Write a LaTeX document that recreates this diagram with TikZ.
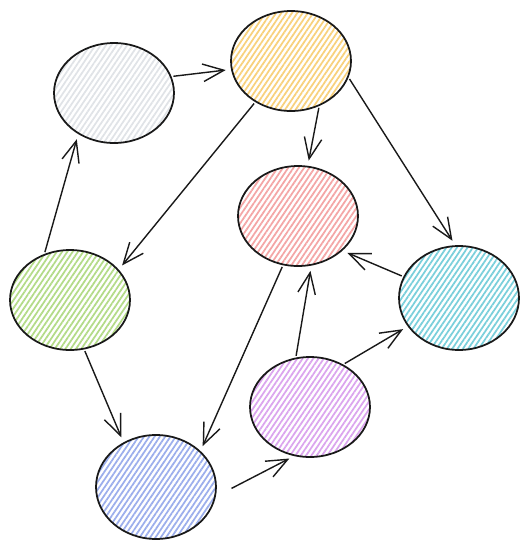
\documentclass[tikz,border=0pt]{standalone}
\usepackage{xcolor}
\usepackage{tikz}
\usetikzlibrary{arrows.meta,shapes.geometric,patterns.meta}

\definecolor{grayfill}{HTML}{E0E3E7}
\definecolor{yellowfill}{HTML}{F8D17C}
\definecolor{redfill}{HTML}{F4A6A6}
\definecolor{greenfill}{HTML}{B3DB88}
\definecolor{cyanfill}{HTML}{7ACFDB}
\definecolor{purplefill}{HTML}{DBA5EE}
\definecolor{bluefill}{HTML}{9CAEEC}

\begin{document}
\begin{tikzpicture}[
  x=0.02cm, y=-0.02cm,
  blob/.style={ellipse, draw=black!90, line width=1pt,
    minimum width=2.4cm, minimum height=2.0cm, inner sep=0pt,
    pattern={Lines[angle=56, distance=2.5pt, line width=1pt]}},
  edge/.style={-{Straight Barb[length=12pt, width=10pt]}, line width=0.8pt,
    draw=black!90, shorten <=1pt, shorten >=3pt}
]
\useasboundingbox (0,0) rectangle (529,548);

\node[blob, pattern color=grayfill] (gray) at (114,93) {};
\node[blob, pattern color=yellowfill] (yellow) at (291,61) {};
\node[blob, pattern color=redfill] (red) at (298,216) {};
\node[blob, pattern color=greenfill] (green) at (70,300) {};
\node[blob, pattern color=cyanfill, minimum height=2.08cm] (cyan) at (459,298) {};
\node[blob, pattern color=purplefill] (purple) at (310,407) {};
\node[blob, pattern color=bluefill, minimum height=2.08cm] (blue) at (156,487) {};

\draw[edge] (gray.16) -- (yellow.188);
\draw[edge] (yellow.229) -- (green.32);
\draw[edge] (yellow.302) -- (red.79);
\draw[edge] (yellow.344) -- (cyan.94);
\draw[edge] (green.119) -- (gray.229);
\draw[edge] (cyan.159) -- (red.322);
\draw[edge] (purple.106) -- (red.285);
\draw[edge] (red.253) -- (blue.39);
\draw[edge] (green.286) -- (blue.126);
\draw[edge] (purple.52) -- (cyan.209);
\draw[edge, shorten <=10pt] (blue.351) -- (purple.252);
\end{tikzpicture}
\end{document}
